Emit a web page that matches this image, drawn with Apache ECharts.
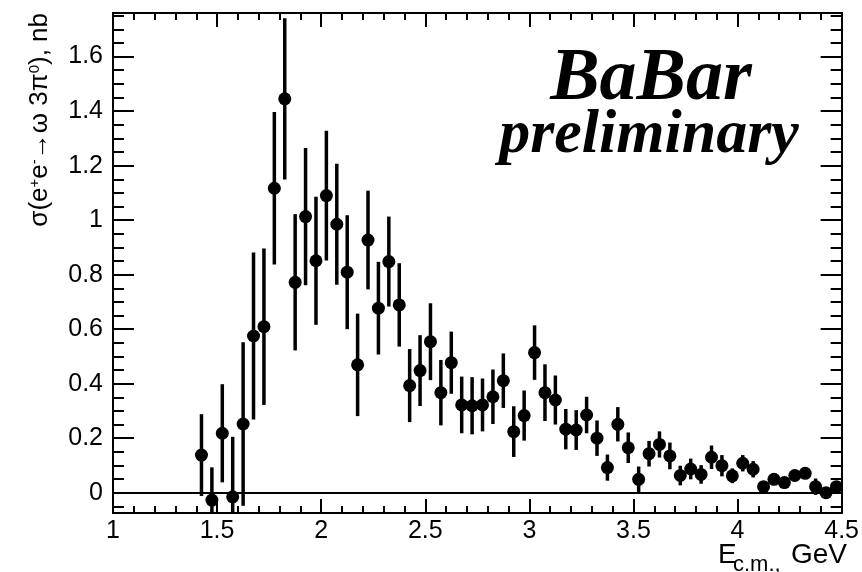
<!DOCTYPE html>
<html><head><meta charset="utf-8">
<script src="https://cdn.jsdelivr.net/npm/echarts@6/dist/echarts.min.js"></script>
<style>html,body{margin:0;padding:0;background:#fff}#c{width:862px;height:572px}</style>
</head><body><div id="c"></div>
<script>
// E_cm bin centres (GeV)
const energies = [1.425,1.475,1.525,1.575,1.625,1.675,1.725,1.775,1.825,1.875,
  1.925,1.975,2.025,2.075,2.125,2.175,2.225,2.275,2.325,2.375,
  2.425,2.475,2.525,2.575,2.625,2.675,2.725,2.775,2.825,2.875,
  2.925,2.975,3.025,3.075,3.125,3.175,3.225,3.275,3.325,3.375,
  3.425,3.475,3.525,3.575,3.625,3.675,3.725,3.775,3.825,3.875,
  3.925,3.975,4.025,4.075,4.125,4.175,4.225,4.275,4.325,4.375,
  4.425,4.475];
// cross section (nb)
const sigma = [0.138,-0.027,0.218,-0.015,0.252,0.575,0.609,1.117,1.445,0.772,
  1.013,0.851,1.090,0.985,0.809,0.469,0.927,0.677,0.848,0.689,
  0.393,0.448,0.554,0.367,0.477,0.322,0.319,0.322,0.352,0.411,
  0.224,0.283,0.514,0.367,0.340,0.233,0.230,0.285,0.200,0.092,
  0.251,0.165,0.049,0.143,0.177,0.135,0.063,0.087,0.067,0.130,
  0.099,0.062,0.108,0.086,0.022,0.049,0.037,0.063,0.071,0.022,
  0.000,0.022];
// symmetric errors (nb)
const errors = [0.150,0.120,0.180,0.220,0.300,0.306,0.287,0.280,0.296,0.250,
  0.252,0.235,0.238,0.222,0.209,0.188,0.181,0.170,0.165,0.153,
  0.134,0.130,0.141,0.120,0.114,0.104,0.105,0.097,0.100,0.100,
  0.093,0.092,0.100,0.104,0.090,0.074,0.073,0.067,0.065,0.048,
  0.063,0.056,0.047,0.047,0.048,0.049,0.036,0.038,0.034,0.043,
  0.039,0.027,0.030,0.030,0.020,0.020,0.020,0.020,0.020,0.030,
  0.020,0.020];
const yMajorTicks = [0,0.2,0.4,0.6,0.8,1,1.2,1.4,1.6];
const yMinorTicks = [-0.05,0.05,0.1,0.15,0.25,0.3,0.35,0.45,0.5,0.55,0.65,0.7,0.75,
  0.85,0.9,0.95,1.05,1.1,1.15,1.25,1.3,1.35,1.45,1.5,1.55,1.65,1.7,1.75];

const pts = energies.map((e,i)=>[e, sigma[i], errors[i]]);
const FONT = '"Liberation Sans", Arial, Helvetica, sans-serif';
const SERIF = '"Liberation Serif", "Times New Roman", serif';
const YMIN = -0.0745, YMAX = 1.76;

function yAx(pos, custom, len, labels) {
  return {
    type:'value', position:pos, min:YMIN, max:YMAX,
    axisLine:{show:true, onZero:false, lineStyle:{color:'#000', width:2}},
    axisTick:{show:true, inside:true, length:len, customValues:custom, lineStyle:{color:'#000', width:2}},
    axisLabel:{show:labels, customValues:custom, margin:10, color:'#000', fontSize:25, fontFamily:FONT},
    splitLine:{show:false}
  };
}
function xAx(pos, labels) {
  return {
    type:'value', position:pos, min:1, max:4.5, interval:0.5,
    axisLine:{show:true, onZero:false, lineStyle:{color:'#000', width:2}},
    axisTick:{show:true, inside:true, length:14, lineStyle:{color:'#000', width:2}},
    minorTick:{show:true, splitNumber:5, length:7, lineStyle:{color:'#000', width:2}},
    axisLabel:{show:labels, margin:6, color:'#000', fontSize:25, fontFamily:FONT, showMaxLabel:true, showMinLabel:true},
    splitLine:{show:false}, minorSplitLine:{show:false}
  };
}
function txt(x, y, text, size, align, extra) {
  return Object.assign({type:'text', x:x, y:y, z:10,
    style:Object.assign({text:text, align:align, verticalAlign:'middle', textAlign:align, textVerticalAlign:'middle',
      fill:'#000', fontSize:size, fontFamily:FONT}, extra || {})});
}

const chart = echarts.init(document.getElementById('c'), null, {renderer:'canvas'});
chart.setOption({
  animation:false,
  backgroundColor:'#fff',
  grid:{left:113, right:15, top:13, bottom:59, containLabel:false},
  xAxis:[xAx('bottom', true), xAx('top', false)],
  yAxis:[yAx('left', yMajorTicks, 21, true), yAx('left', yMinorTicks, 11, false),
         yAx('right', yMajorTicks, 21, false), yAx('right', yMinorTicks, 11, false)],
  series:[
    {
      type:'custom', xAxisIndex:0, yAxisIndex:0, data:pts, z:2,
      renderItem:function(params, api){
        const x = api.value(0), y = api.value(1), e = api.value(2);
        const p1 = api.coord([x, y - e]), p2 = api.coord([x, y + e]);
        const cs = params.coordSys;
        const top = cs.y, bot = cs.y + cs.height;
        const c = v => Math.min(Math.max(v, top), bot);
        return {type:'line', shape:{x1:p1[0], y1:c(p1[1]), x2:p2[0], y2:c(p2[1])},
          style:{stroke:'#000', lineWidth:3.5}};
      },
      markLine:{silent:true, symbol:['none','none'], label:{show:false},
        lineStyle:{color:'#000', width:2, type:'solid', opacity:1}, data:[{yAxis:0}]}
    },
    {
      type:'scatter', xAxisIndex:0, yAxisIndex:0, data:pts, z:3,
      symbol:'circle', symbolSize:13, itemStyle:{color:'#000', opacity:1}
    }
  ],
  graphic:[
    {type:'text', x:40, y:13, rotation:Math.PI/2, z:10,
      style:{text:'{m|σ(e}{s|+}{m|e}{s|-}{m|→ω 3π}{s|0}{m|), nb}',
        align:'right', verticalAlign:'middle', textAlign:'right', textVerticalAlign:'middle',
        fill:'#000',
        rich:{m:{fontSize:26, fontFamily:FONT, fill:'#000', color:'#000'},
              s:{fontSize:15, fontFamily:FONT, fill:'#000', color:'#000', verticalAlign:'top'}}}},
    txt(718, 555, 'E', 28, 'left'),
    txt(733, 565, 'c.m.,', 22, 'left'),
    txt(847, 555, 'GeV', 28, 'right'),
    txt(651, 80, 'BaBar', 74, 'center', {fontWeight:'bold', fontStyle:'italic', fontFamily:SERIF}),
    txt(649, 136, 'preliminary', 62, 'center', {fontWeight:'bold', fontStyle:'italic', fontFamily:SERIF})
  ]
});
</script></body></html>
